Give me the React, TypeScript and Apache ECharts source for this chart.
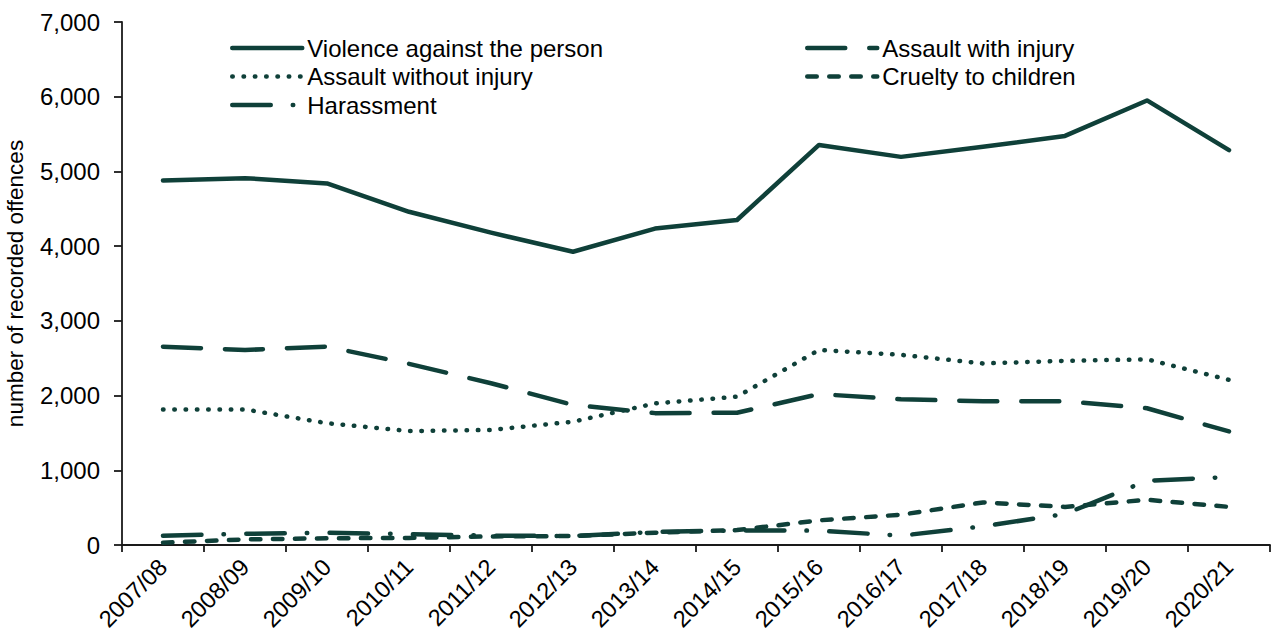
import React, { useEffect, useRef } from 'react';
import * as echarts from 'echarts';

const categories = [
  '2007/08', '2008/09', '2009/10', '2010/11', '2011/12', '2012/13', '2013/14',
  '2014/15', '2015/16', '2016/17', '2017/18', '2018/19', '2019/20', '2020/21',
];

const violenceAgainstThePerson = [4880, 4910, 4840, 4460, 4180, 3925, 4235, 4350, 5355, 5195, 5330, 5475, 5950, 5285];
const assaultWithInjury = [2655, 2610, 2655, 2425, 2165, 1875, 1765, 1770, 2020, 1950, 1925, 1925, 1830, 1520];
const assaultWithoutInjury = [1815, 1815, 1630, 1525, 1540, 1650, 1895, 1985, 2610, 2545, 2430, 2465, 2485, 2210];
const crueltyToChildren = [30, 75, 90, 95, 115, 120, 165, 200, 330, 405, 570, 510, 605, 510];
const harassment = [125, 150, 165, 145, 125, 120, 175, 195, 192, 125, 250, 415, 860, 910];

const yTicks = { min: 0, max: 7000, interval: 1000 };

const COLOR = '#0f4039';
const FONT = '"Liberation Sans", Arial, sans-serif';
const LW = 4.5;

export default function App() {
  const ref = useRef<HTMLDivElement>(null);

  useEffect(() => {
    const chart = echarts.init(ref.current!, null, { renderer: 'svg' });

    const mk = (name: string, data: number[], type: any) => ({
      name,
      type: 'line',
      data,
      symbol: 'none',
      showSymbol: false,
      color: COLOR,
      itemStyle: { color: COLOR },
      lineStyle: { color: COLOR, width: LW, type, cap: 'round', join: 'round' },
    });

    const legendBase = {
      orient: 'vertical',
      top: 31,
      itemWidth: 70,
      itemHeight: 14,
      itemGap: 4.5,
      itemStyle: { opacity: 0 },
      lineStyle: { width: LW, cap: 'round' },
      textStyle: { fontSize: 24, color: '#000', fontFamily: FONT, lineHeight: 24 },
    };

    chart.setOption({
      animation: false,
      backgroundColor: '#ffffff',
      textStyle: { fontFamily: FONT },
      grid: { left: 122, right: 6, top: 22, bottom: 88, containLabel: false, outerBoundsMode: 'none' },
      legend: [
        {
          ...legendBase,
          left: 225,
          data: ['Violence against the person', 'Assault without injury', 'Harassment'],
        },
        {
          ...legendBase,
          left: 800,
          data: ['Assault with injury', 'Cruelty to children'],
        },
      ],
      xAxis: {
        type: 'category',
        data: categories,
        boundaryGap: true,
        axisLine: { lineStyle: { color: '#1a1a1a', width: 1.8 } },
        axisTick: { show: true, length: 7, lineStyle: { color: '#1a1a1a', width: 1.8 } },
        axisLabel: {
          rotate: 45,
          interval: 0,
          margin: 18,
          fontSize: 23.5,
          color: '#000',
          fontFamily: FONT,
        },
        splitLine: { show: false },
      },
      yAxis: {
        type: 'value',
        min: yTicks.min,
        max: yTicks.max,
        interval: yTicks.interval,
        name: 'number of recorded offences',
        nameLocation: 'middle',
        nameGap: 95,
        nameTextStyle: { fontSize: 22.5, color: '#000', fontFamily: FONT },
        axisLine: { show: true, lineStyle: { color: '#1a1a1a', width: 1.8 } },
        axisTick: { show: true, length: 8, lineStyle: { color: '#1a1a1a', width: 1.8 } },
        axisLabel: {
          margin: 22,
          fontSize: 24,
          color: '#000',
          fontFamily: FONT,
          formatter: (v: number) => v.toLocaleString('en-US'),
        },
        splitLine: { show: false },
      },
      series: [
        mk('Violence against the person', violenceAgainstThePerson, 'solid'),
        mk('Assault with injury', assaultWithInjury, [38, 24]),
        mk('Assault without injury', assaultWithoutInjury, [0.5, 10.8]),
        mk('Cruelty to children', crueltyToChildren, [9.5, 12.5]),
        mk('Harassment', harassment, [38.5, 22, 0.5, 22.3]),
      ],
    });

    return () => chart.dispose();
  }, []);

  return (
    <div
      ref={ref}
      style={{ position: 'fixed', left: 0, top: 0, width: 1276, height: 633, background: '#fff' }}
    />
  );
}
